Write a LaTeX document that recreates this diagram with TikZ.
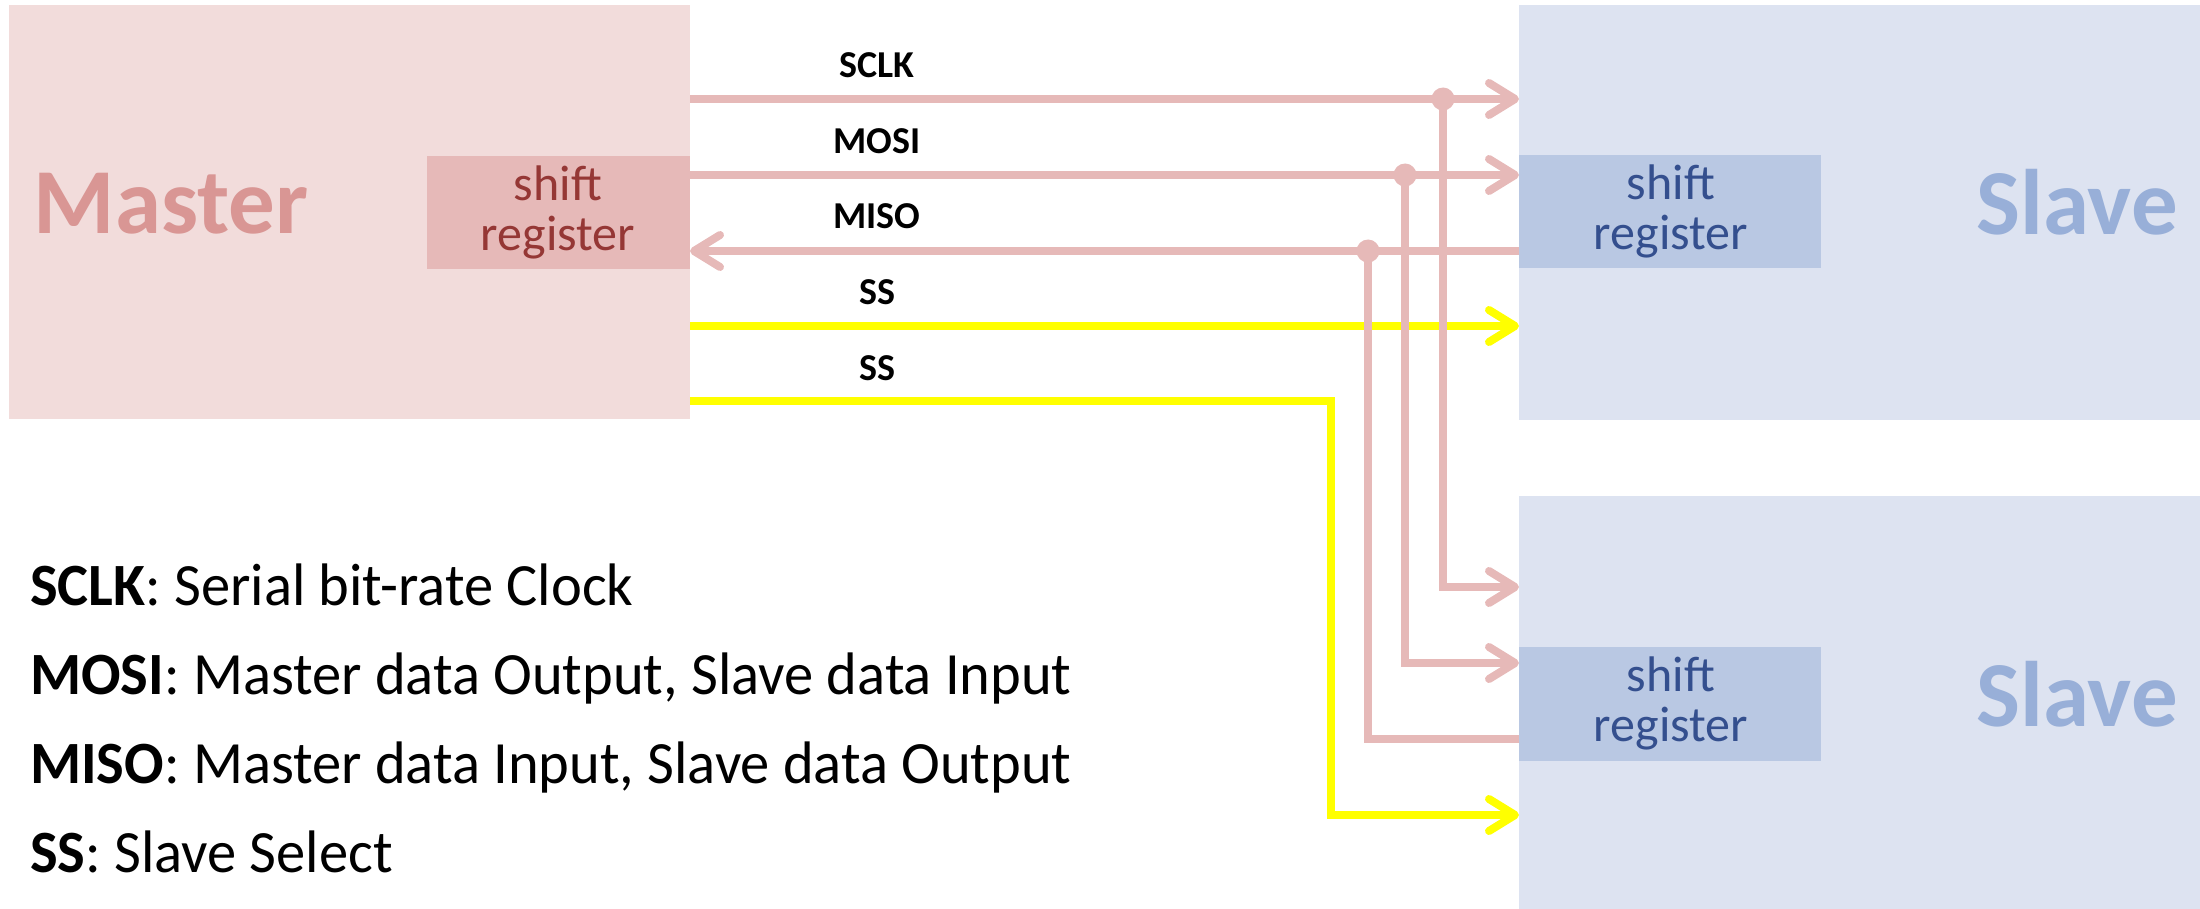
\documentclass[tikz,border=0pt]{standalone}
\usepackage{fontspec}
\setmainfont{Carlito}
\usetikzlibrary{arrows.meta}
\definecolor{mfill}{HTML}{F2DCDB}
\definecolor{mreg}{HTML}{E6B9B8}
\definecolor{mtext}{HTML}{D99694}
\definecolor{mregtext}{HTML}{953735}
\definecolor{sfill}{HTML}{DDE3F1}
\definecolor{sreg}{HTML}{B9C8E3}
\definecolor{sregtext}{HTML}{344F8E}
\definecolor{stext}{HTML}{98AFD8}
\definecolor{wire}{HTML}{E6B9B8}
\definecolor{ywire}{HTML}{FFFF00}
\newcommand{\narrow}[1]{\scalebox{0.975}[1]{#1}}
\tikzset{
  box/.style={inner sep=0pt, outer sep=0pt, anchor=north west},
  regtext/.style={inner sep=0pt, align=center, font=\fontsize{50}{50}\selectfont},
  bigtext/.style={inner sep=0pt, anchor=base, font=\fontsize{93}{100}\selectfont\bfseries},
  sig/.style={inner sep=0pt, anchor=base, font=\fontsize{38}{40}\selectfont\bfseries},
  legend/.style={inner sep=0pt, anchor=base west, font=\fontsize{60}{72}\selectfont},
  barb/.tip={Straight Barb[length=26pt,width=32pt,line cap=round,line join=round]},
  pinkline/.style={draw=wire, line width=8pt},
  yline/.style={draw=ywire, line width=8pt},
  jdot/.style={circle, fill=wire, inner sep=0pt, minimum size=23pt},
}
\begin{document}
\begin{tikzpicture}[x=1pt,y=-1pt]
\useasboundingbox (0,0) rectangle (2200,909);
% boxes
\node[box, fill=mfill, minimum width=681pt, minimum height=414pt] (master) at (9,5) {};
\node[box, fill=mreg, minimum width=263pt, minimum height=113pt] (mreg) at (427,156) {};
\node[regtext, text=mregtext] (mregt) at (558,212) {shift\\register};
\node[bigtext, text=mtext] (mastert) at (171,234) {Master};

\node[box, fill=sfill, minimum width=681pt, minimum height=415pt] (slave1) at (1519,5) {};
\node[box, fill=sreg, minimum width=302pt, minimum height=113pt] (s1reg) at (1519,155) {};
\node[regtext, text=sregtext] (s1regt) at (1671,211) {shift\\register};
\node[bigtext, text=stext] (slave1t) at (2077,235) {Slave};

\node[box, fill=sfill, minimum width=681pt, minimum height=413pt] (slave2) at (1519,496) {};
\node[box, fill=sreg, minimum width=302pt, minimum height=114pt] (s2reg) at (1519,647) {};
\node[regtext, text=sregtext] (s2regt) at (1671,703) {shift\\register};
\node[bigtext, text=stext] (slave2t) at (2077,726) {Slave};

% end points
\coordinate (mS) at (690,99);   \coordinate (sS) at (1519,99);
\coordinate (mMo) at (690,175); \coordinate (sMo) at (1519,175);
\coordinate (mMi) at (690,251); \coordinate (sMi) at (1519,251);
\coordinate (mSS1) at (690,326); \coordinate (sSS1) at (1519,326);
\coordinate (mSS2) at (690,401);
\coordinate (ycorner) at (1331,815);
\coordinate (s2S) at (1519,587);
\coordinate (s2Mo) at (1519,663);
\coordinate (s2Mi) at (1519,739);
\coordinate (s2SS) at (1519,815);

% junctions
\coordinate (jS) at (1443,99);
\coordinate (jMo) at (1405,175);
\coordinate (jMi) at (1368,251);

% yellow wires
\draw[yline, -{barb}] (mSS1) -- (sSS1);
\draw[yline, -{barb}] (mSS2) -| (ycorner) -- (s2SS);

% pink wires
\draw[pinkline, -{barb}] (mS) -- (sS);
\draw[pinkline, -{barb}] (mMo) -- (sMo);
\draw[pinkline, -{barb}] (sMi) -- (mMi);
\draw[pinkline, -{barb}] (jS) |- (s2S);
\draw[pinkline, -{barb}] (jMo) |- (s2Mo);
\draw[pinkline] (s2Mi) -| (jMi);

\node[jdot] (dS) at (jS) {};
\node[jdot] (dMo) at (jMo) {};
\node[jdot] (dMi) at (jMi) {};

% signal labels
\node[sig] (lS) at (877,78) {SCLK};
\node[sig] (lMo) at (877,154) {MOSI};
\node[sig] (lMi) at (877,229) {MISO};
\node[sig] (lSS1) at (877,305) {SS};
\node[sig] (lSS2) at (877,380) {SS};

% legend
\node[legend] (g1) at (30,605) {\narrow{\textbf{SCLK}: Serial bit-rate Clock}};
\node[legend] (g2) at (30,694) {\narrow{\textbf{MOSI}: Master data Output, Slave data Input}};
\node[legend] (g3) at (30,783) {\narrow{\textbf{MISO}: Master data Input, Slave data Output}};
\node[legend] (g4) at (30,872) {\narrow{\textbf{SS}: Slave Select}};
\end{tikzpicture}
\end{document}
